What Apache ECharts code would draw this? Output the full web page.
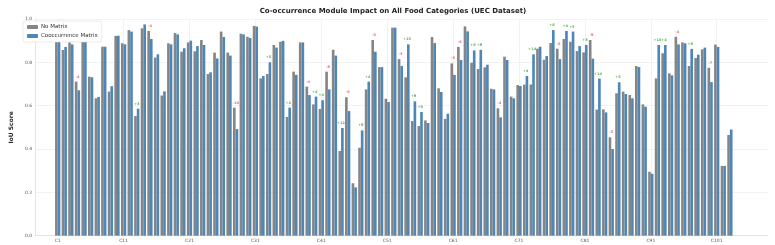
<!DOCTYPE html>
<html><head><meta charset="utf-8">
<script src="https://cdn.jsdelivr.net/npm/echarts@6/dist/echarts.min.js"></script>
<style>html,body{margin:0;padding:0;background:#fff}#c{width:775px;height:245px}</style>
</head><body><div id="c"></div>
<script>
const categories = Array.from({length:103}, (_, i) => 'C' + (i + 1));
const noMatrix = [
0.920,0.857,0.892,0.711,0.895,0.734,0.634,0.872,0.665,0.922,
0.888,0.949,0.552,0.957,0.945,0.822,0.647,0.888,0.935,0.849,
0.892,0.851,0.903,0.746,0.845,0.942,0.845,0.591,0.932,0.918,
0.968,0.726,0.746,0.880,0.895,0.548,0.757,0.892,0.688,0.606,
0.585,0.757,0.858,0.391,0.639,0.242,0.406,0.675,0.903,0.778,
0.632,0.960,0.815,0.731,0.529,0.506,0.532,0.917,0.680,0.539,
0.795,0.871,0.966,0.798,0.769,0.777,0.678,0.588,0.826,0.642,
0.695,0.697,0.698,0.863,0.812,0.889,0.863,0.908,0.895,0.852,
0.846,0.903,0.582,0.583,0.454,0.657,0.665,0.649,0.783,0.606,
0.295,0.726,0.842,0.749,0.918,0.892,0.783,0.820,0.860,0.775,
0.882,0.322,0.465];
const coocMatrix = [
0.912,0.871,0.883,0.671,0.911,0.731,0.640,0.872,0.690,0.923,
0.883,0.942,0.586,0.975,0.908,0.837,0.666,0.883,0.929,0.865,
0.900,0.875,0.880,0.754,0.818,0.917,0.831,0.492,0.929,0.912,
0.965,0.737,0.800,0.868,0.899,0.591,0.742,0.892,0.649,0.642,
0.625,0.675,0.831,0.497,0.575,0.223,0.486,0.711,0.849,0.778,
0.617,0.960,0.783,0.883,0.620,0.571,0.520,0.889,0.663,0.563,
0.742,0.811,0.943,0.855,0.858,0.789,0.675,0.546,0.811,0.634,
0.691,0.737,0.837,0.872,0.829,0.949,0.815,0.945,0.942,0.875,
0.880,0.817,0.725,0.569,0.400,0.708,0.654,0.634,0.778,0.595,
0.286,0.880,0.880,0.740,0.883,0.888,0.862,0.835,0.868,0.709,
0.871,0.322,0.490];
const yTicks = [0, 0.2, 0.4, 0.6, 0.8, 1.0];

const labelData = categories.map((c, i) => {
  const d = coocMatrix[i] - noMatrix[i];
  if (Math.abs(d) < 0.03) return null;
  return {value: [c, Math.max(noMatrix[i], coocMatrix[i])], diff: d};
}).filter(Boolean);

const chart = echarts.init(document.getElementById('c'), null, {renderer: 'canvas'});
const FONT = 'DejaVu Sans';
chart.setOption({
  animation: false,
  backgroundColor: '#fff',
  title: {
    text: 'Co-occurrence Module Impact on All Food Categories (UEC Dataset)',
    left: 388, top: 3, textAlign: 'center',
    textStyle: {fontFamily: FONT, fontSize: 7, fontWeight: 'bold', color: '#222'}
  },
  legend: {
    orient: 'vertical', left: 23, top: 21,
    itemWidth: 11, itemHeight: 4, itemGap: 3,
    padding: [3, 4, 3, 4],
    borderColor: '#ddd', borderWidth: 0.6, borderRadius: 2, backgroundColor: '#fff',
    textStyle: {fontFamily: FONT, fontSize: 5.5, color: '#333', padding: [0, 0, 0, -2]},
    data: ['No Matrix', 'Cooccurrence Matrix'], z: 10
  },
  grid: [
    {left: 22, right: 7, top: 19, bottom: 9.3},
    {left: 54.4, right: 41.8, top: 19, bottom: 9.3}
  ],
  xAxis: [
    {gridIndex: 0, type: 'value', min: 0, max: 1, axisLine: {show: true, lineStyle: {color: '#ddd', width: 0.8}},
     axisTick: {show: false}, axisLabel: {show: false}, splitLine: {show: false}},
    {gridIndex: 1, type: 'category', data: categories,
     axisLine: {show: false},
     axisTick: {show: true, alignWithLabel: true, interval: 9, inside: true, length: 216.7, lineStyle: {color: '#efefef', width: 0.8}},
     axisLabel: {interval: 9, fontFamily: FONT, fontSize: 4.5, color: '#555', margin: 3},
     splitLine: {show: false}}
  ],
  yAxis: [
    {gridIndex: 0, type: 'value', min: 0, max: 1, interval: 0.2,
     name: 'IoU Score', nameLocation: 'middle', nameGap: 13,
     nameTextStyle: {fontFamily: FONT, fontSize: 6, fontWeight: 'bold', color: '#222'},
     axisLine: {show: true, lineStyle: {color: '#ddd', width: 0.8}},
     axisTick: {show: false},
     axisLabel: {fontFamily: FONT, fontSize: 4.5, color: '#555', margin: 3,
       formatter: v => yTicks.includes(+v.toFixed(1)) ? v.toFixed(1) : ''},
     splitLine: {lineStyle: {color: '#efefef', width: 0.8}}},
    {gridIndex: 1, type: 'value', min: 0, max: 1, show: false}
  ],
  series: [
    {name: 'No Matrix', type: 'bar', xAxisIndex: 1, yAxisIndex: 1, data: noMatrix,
     barWidth: '40%', barGap: '0%', itemStyle: {color: '#858585'}, z: 2},
    {name: 'Cooccurrence Matrix', type: 'bar', xAxisIndex: 1, yAxisIndex: 1, data: coocMatrix,
     barWidth: '40%', barGap: '0%', itemStyle: {color: '#4e86b8'}, z: 2},
    {type: 'scatter', xAxisIndex: 1, yAxisIndex: 1, symbolSize: 0, silent: true, z: 3,
     data: labelData,
     label: {show: true, position: 'top', distance: 3, fontFamily: FONT, fontSize: 3.6, fontWeight: 'bold',
       formatter: p => (p.data.diff > 0 ? '+' : '') + Math.round(p.data.diff * 100),
       rich: {}},
     labelLayout: {hideOverlap: false}}
  ]
});
// colour labels by sign
chart.setOption({series: [{}, {}, {data: labelData.map(d => ({...d, label: {color: d.diff > 0 ? '#2ca02c' : '#e8474a'}}))}]});
</script></body></html>
